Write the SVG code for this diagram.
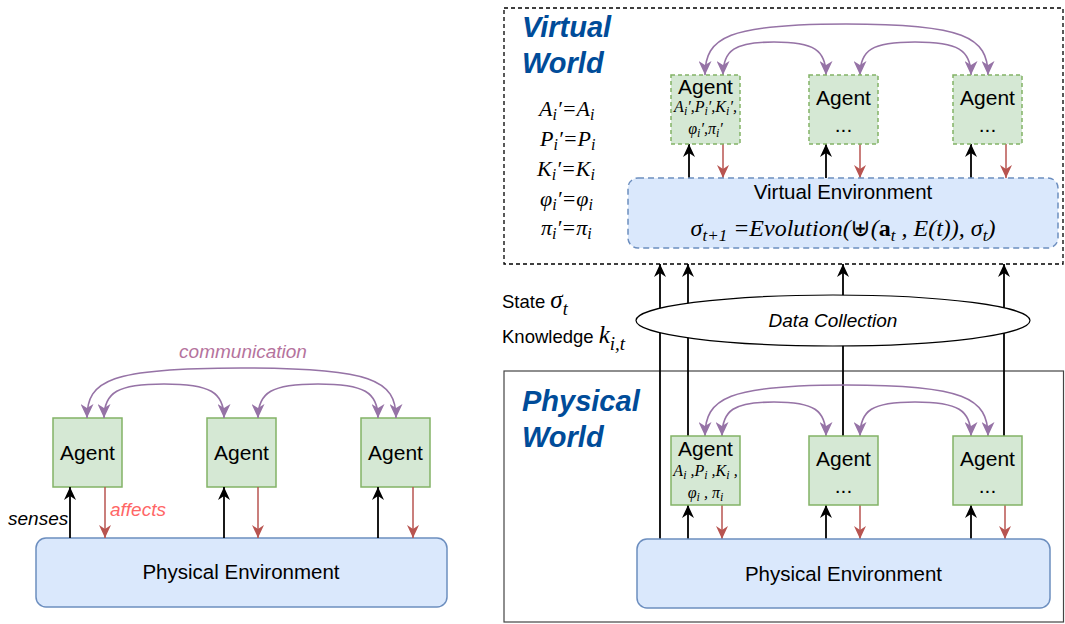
<svg xmlns="http://www.w3.org/2000/svg" width="1065" height="624" viewBox="0 0 1065 624">
<style>
.agent{fill:#D5E8D4;stroke:#82B366;stroke-width:1.5}
.agentv{fill:#D5E8D4;stroke:#82B366;stroke-width:1.5;stroke-dasharray:4 3}
.env{fill:#DAE8FC;stroke:#6C8EBF;stroke-width:1.5}
.envv{fill:#DAE8FC;stroke:#6C8EBF;stroke-width:1.5;stroke-dasharray:6 4}
.lbl{font-family:"Liberation Sans",Arial,sans-serif;font-size:21px;fill:#000;text-anchor:middle}
.elbl{font-family:"Liberation Sans",Arial,sans-serif;font-size:20.5px;fill:#000;text-anchor:middle}
.it{font-family:"Liberation Sans",Arial,sans-serif;font-size:19px;font-style:italic}
.title{font-family:"Liberation Sans",Arial,sans-serif;font-size:29px;font-weight:bold;font-style:italic;fill:#004C99}
.math{font-family:"Liberation Serif","DejaVu Serif",serif;font-style:italic;fill:#000}
.up{stroke:#000;stroke-width:1.8;fill:none;marker-end:url(#ab)}
.dn{stroke:#B85450;stroke-width:1.5;fill:none;marker-end:url(#ar)}
.com{stroke:#9673A6;stroke-width:1.6;fill:none;marker-start:url(#ap);marker-end:url(#ap)}
</style>
<defs>
<marker id="ab" markerUnits="userSpaceOnUse" viewBox="0 0 13 12" refX="13" refY="6" markerWidth="13" markerHeight="12" orient="auto-start-reverse"><path d="M0,0 L13,6 L0,12 L4,6 Z" fill="#000"/></marker>
<marker id="ar" markerUnits="userSpaceOnUse" viewBox="0 0 13 12" refX="13" refY="6" markerWidth="13" markerHeight="12" orient="auto-start-reverse"><path d="M0,0 L13,6 L0,12 L4,6 Z" fill="#B85450"/></marker>
<marker id="ap" markerUnits="userSpaceOnUse" viewBox="0 0 14 13" refX="14" refY="6.5" markerWidth="14" markerHeight="13" orient="auto-start-reverse"><path d="M0,0 L14,6.5 L0,13 L4,6.5 Z" fill="#9673A6"/></marker>
</defs>

<!-- Left diagram -->
<g id="left-env"><rect x="36" y="538" width="411" height="69" rx="10" class="env"/><text x="241" y="579" class="elbl">Physical Environment</text></g>
<g id="left-agent-1"><rect x="53" y="418" width="69" height="69" class="agent"/><text x="87.5" y="460" class="lbl">Agent</text></g>
<g id="left-agent-2"><rect x="207" y="418" width="69" height="69" class="agent"/><text x="241.5" y="460" class="lbl">Agent</text></g>
<g id="left-agent-3"><rect x="361" y="418" width="69" height="69" class="agent"/><text x="395.5" y="460" class="lbl">Agent</text></g>
<g id="left-connectors">
<path class="up" d="M70,538 V487"/>
<path class="dn" d="M105,487 V538"/>
<path class="up" d="M224,538 V487"/>
<path class="dn" d="M258,487 V538"/>
<path class="up" d="M378,538 V487"/>
<path class="dn" d="M413,487 V538"/>
<path class="com" d="M87,418 C87,380 110,368 241,368 C372,368 396,380 396,418"/>
<path class="com" d="M104,418 C104,392 118,384 164,384 C210,384 224,392 224,418"/>
<path class="com" d="M258,418 C258,392 272,384 318,384 C364,384 378,392 378,418"/>
<text x="243" y="358" class="it" fill="#B5739D" text-anchor="middle">communication</text>
<text x="8" y="525" class="it" fill="#000">senses</text>
<text x="110" y="516" class="it" fill="#FF6666">affects</text>
</g>

<!-- Right diagram: world frames -->
<g id="virtual-world">
<rect x="504" y="8" width="559" height="256" fill="none" stroke="#000" stroke-width="1.3" stroke-dasharray="4 3"/>
<text x="522" y="37" class="title">Virtual</text>
<text x="522" y="73" class="title">World</text>
<g class="math" font-size="22">
<text x="539" y="116">A<tspan font-size="16" dy="4">i</tspan><tspan dy="-4">′=A</tspan><tspan font-size="16" dy="4">i</tspan></text>
<text x="540" y="146">P<tspan font-size="16" dy="4">i</tspan><tspan dy="-4">′=P</tspan><tspan font-size="16" dy="4">i</tspan></text>
<text x="537" y="176">K<tspan font-size="16" dy="4">i</tspan><tspan dy="-4">′=K</tspan><tspan font-size="16" dy="4">i</tspan></text>
<text x="540" y="206">φ<tspan font-size="16" dy="4">i</tspan><tspan dy="-4">′=φ</tspan><tspan font-size="16" dy="4">i</tspan></text>
<text x="541" y="235">π<tspan font-size="16" dy="4">i</tspan><tspan dy="-4">′=π</tspan><tspan font-size="16" dy="4">i</tspan></text>
</g>
</g>
<g id="physical-world">
<rect x="504" y="371" width="559.5" height="251" fill="none" stroke="#444" stroke-width="1.2"/>
<text x="522" y="411" class="title">Physical</text>
<text x="522" y="447" class="title">World</text>
</g>

<!-- Connectors right -->
<g id="right-connectors">
<path class="up" d="M660,539 V264"/>
<path class="up" d="M688,436 V264"/>
<path class="up" d="M843,436 V264"/>
<path class="up" d="M1004,436 V264"/>
<!-- physical agents -->
<path class="up" d="M688,539 V505"/>
<path class="dn" d="M722,505 V539"/>
<path class="up" d="M826,539 V505"/>
<path class="dn" d="M860,505 V539"/>
<path class="up" d="M971,539 V505"/>
<path class="dn" d="M1005,505 V539"/>
<path class="com" d="M705,436 C705,398 728,385 846,385 C964,385 988,398 988,436"/>
<path class="com" d="M722,436 C722,410 734,402 774,402 C814,402 826,410 826,436"/>
<path class="com" d="M860,436 C860,410 872,402 915,402 C958,402 971,410 971,436"/>
<!-- virtual agents -->
<path class="up" d="M689,178 V144"/>
<path class="dn" d="M723,144 V178"/>
<path class="up" d="M826,178 V144"/>
<path class="dn" d="M860,144 V178"/>
<path class="up" d="M971,178 V144"/>
<path class="dn" d="M1006,144 V178"/>
<path class="com" d="M705,75 C705,37 728,24 846,24 C964,24 988,37 988,75"/>
<path class="com" d="M723,75 C723,50 735,42 774,42 C814,42 826,50 826,75"/>
<path class="com" d="M860,75 C860,50 872,42 915,42 C958,42 971,50 971,75"/>
</g>

<g id="data-collection">
<ellipse cx="833" cy="320.5" rx="197" ry="25.5" fill="#fff" stroke="#000" stroke-width="1.2"/>
<text x="833" y="327" class="it" fill="#000" text-anchor="middle">Data Collection</text>
</g>
<g id="state-knowledge">
<text x="502" y="308" font-family="'Liberation Sans',Arial,sans-serif" font-size="18.5">State <tspan class="math" font-size="25">σ</tspan><tspan class="math" font-size="18" dy="7">t</tspan></text>
<text x="502" y="343" font-family="'Liberation Sans',Arial,sans-serif" font-size="18.5">Knowledge <tspan class="math" font-size="25">k</tspan><tspan class="math" font-size="19" dy="7">i,t</tspan></text>
</g>

<!-- Virtual nodes -->
<g id="virtual-env"><rect x="628" y="178" width="430" height="70" rx="10" class="envv"/>
<text x="843" y="199" class="elbl">Virtual Environment</text>
<text x="843" y="236" class="math" font-size="24" text-anchor="middle">σ<tspan font-size="17" dy="5">t+1</tspan><tspan dy="-5" font-style="normal"> </tspan><tspan>=Evolution(</tspan><tspan font-style="normal">⊎</tspan><tspan>(</tspan><tspan font-weight="bold" font-style="normal">a</tspan><tspan font-size="17" dy="5">t</tspan><tspan dy="-5"> , E(t)), σ</tspan><tspan font-size="17" dy="5">t</tspan><tspan dy="-5">)</tspan></text>
</g>
<g id="virtual-agent-1"><rect x="671" y="75" width="69" height="69" class="agentv"/>
<text x="705.5" y="94" class="lbl">Agent</text>
<text x="705.5" y="112" class="math" font-size="16" text-anchor="middle">A<tspan font-size="12" dy="2.5">i</tspan><tspan dy="-2.5">′,P</tspan><tspan font-size="12" dy="2.5">i</tspan><tspan dy="-2.5">′,K</tspan><tspan font-size="12" dy="2.5">i</tspan><tspan dy="-2.5">′,</tspan></text>
<text x="705.5" y="134" class="math" font-size="16" text-anchor="middle">φ<tspan font-size="12" dy="2.5">i</tspan><tspan dy="-2.5">′,π</tspan><tspan font-size="12" dy="2.5">i</tspan><tspan dy="-2.5">′</tspan></text>
</g>
<g id="virtual-agent-2"><rect x="809" y="75" width="69" height="69" class="agentv"/><text x="843.5" y="105" class="lbl">Agent</text><text x="843.5" y="132" class="lbl">...</text></g>
<g id="virtual-agent-3"><rect x="953" y="75" width="69" height="69" class="agentv"/><text x="987.5" y="105" class="lbl">Agent</text><text x="987.5" y="132" class="lbl">...</text></g>

<!-- Physical nodes -->
<g id="physical-env"><rect x="637" y="539" width="413" height="69" rx="10" class="env"/><text x="843.5" y="581" class="elbl">Physical Environment</text></g>
<g id="physical-agent-1"><rect x="671" y="436" width="69" height="69" class="agent"/>
<text x="705.5" y="456" class="lbl">Agent</text>
<text x="705.5" y="476" class="math" font-size="16" text-anchor="middle">A<tspan font-size="12" dy="2.5">i</tspan><tspan dy="-2.5"> ,P</tspan><tspan font-size="12" dy="2.5">i</tspan><tspan dy="-2.5"> ,K</tspan><tspan font-size="12" dy="2.5">i</tspan><tspan dy="-2.5"> ,</tspan></text>
<text x="705.5" y="498" class="math" font-size="16" text-anchor="middle">φ<tspan font-size="12" dy="2.5">i</tspan><tspan dy="-2.5"> , π</tspan><tspan font-size="12" dy="2.5">i</tspan></text>
</g>
<g id="physical-agent-2"><rect x="809" y="436" width="69" height="69" class="agent"/><text x="843.5" y="466" class="lbl">Agent</text><text x="843.5" y="493" class="lbl">...</text></g>
<g id="physical-agent-3"><rect x="953" y="436" width="69" height="69" class="agent"/><text x="987.5" y="466" class="lbl">Agent</text><text x="987.5" y="493" class="lbl">...</text></g>
</svg>
